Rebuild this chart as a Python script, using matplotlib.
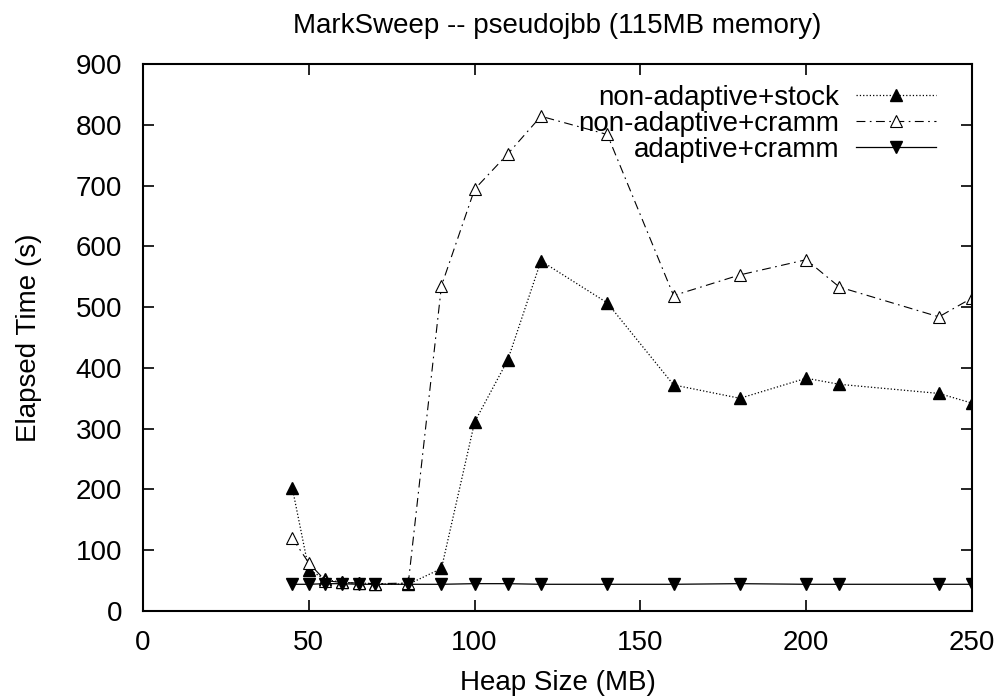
import matplotlib
matplotlib.use("Agg")
import matplotlib.pyplot as plt

plt.rcParams["font.family"] = ["Liberation Sans", "DejaVu Sans"]

# Heap sizes (MB)
heap_sizes = [45, 50, 55, 60, 65, 70, 80, 90, 100, 110, 120, 140, 160, 180, 200, 210, 240, 250]

# Elapsed times (s)
stock_times = [203, 68, 52, 47, 46, 45, 44, 70, 311, 413, 576, 507, 372, 350, 383, 373, 358, 342]
cramm_times = [120, 79, 50, 47, 46, 45, 46, 535, 694, 752, 814, 784, 519, 553, 578, 533, 484, 515]
adaptive_times = [44, 44, 45, 45, 44, 44, 44, 44, 45, 45, 44, 44, 44, 45, 44, 44, 44, 44]

fig = plt.figure(figsize=(10.05, 7.0), dpi=100)
ax = fig.add_axes([0.1423, 0.1271, 0.8249, 0.7815])

ax.plot(heap_sizes, stock_times, color="black", linestyle=":", linewidth=0.9,
        marker="^", markersize=9, markerfacecolor="black", markeredgecolor="black",
        label="non-adaptive+stock")
ax.plot(heap_sizes, cramm_times, color="black", linestyle=(0, (8, 4, 1.5, 4)), linewidth=0.8,
        marker="^", markersize=9, markerfacecolor="white", markeredgecolor="black",
        markeredgewidth=0.8, label="non-adaptive+cramm")
ax.plot(heap_sizes, adaptive_times, color="black", linestyle="-", linewidth=0.9,
        marker="v", markersize=9, markerfacecolor="black", markeredgecolor="black",
        label="adaptive+cramm")

ax.set_xlim(0, 250)
ax.set_ylim(0, 900)
ax.set_xticks(range(0, 251, 50))
ax.set_yticks(range(0, 901, 100))
ax.tick_params(direction="in", length=8, width=1.2, labelsize=20,
               top=True, right=True)
ax.tick_params(axis="y", pad=15)
ax.tick_params(axis="x", pad=14)
for s in ax.spines.values():
    s.set_linewidth(1.5)

ax.set_xlabel("Heap Size (MB)", fontsize=20, labelpad=10)
ax.set_ylabel("Elapsed Time (s)", fontsize=20, labelpad=24)
ax.set_title("MarkSweep -- pseudojbb (115MB memory)", fontsize=20, pad=22)

ax.legend(loc="upper right", bbox_to_anchor=(0.957, 0.962), frameon=False,
          markerfirst=False, fontsize=20, handlelength=2.9, handletextpad=0.6,
          labelspacing=0.0, borderaxespad=0, borderpad=0)

fig.savefig("out.png", dpi=100)
